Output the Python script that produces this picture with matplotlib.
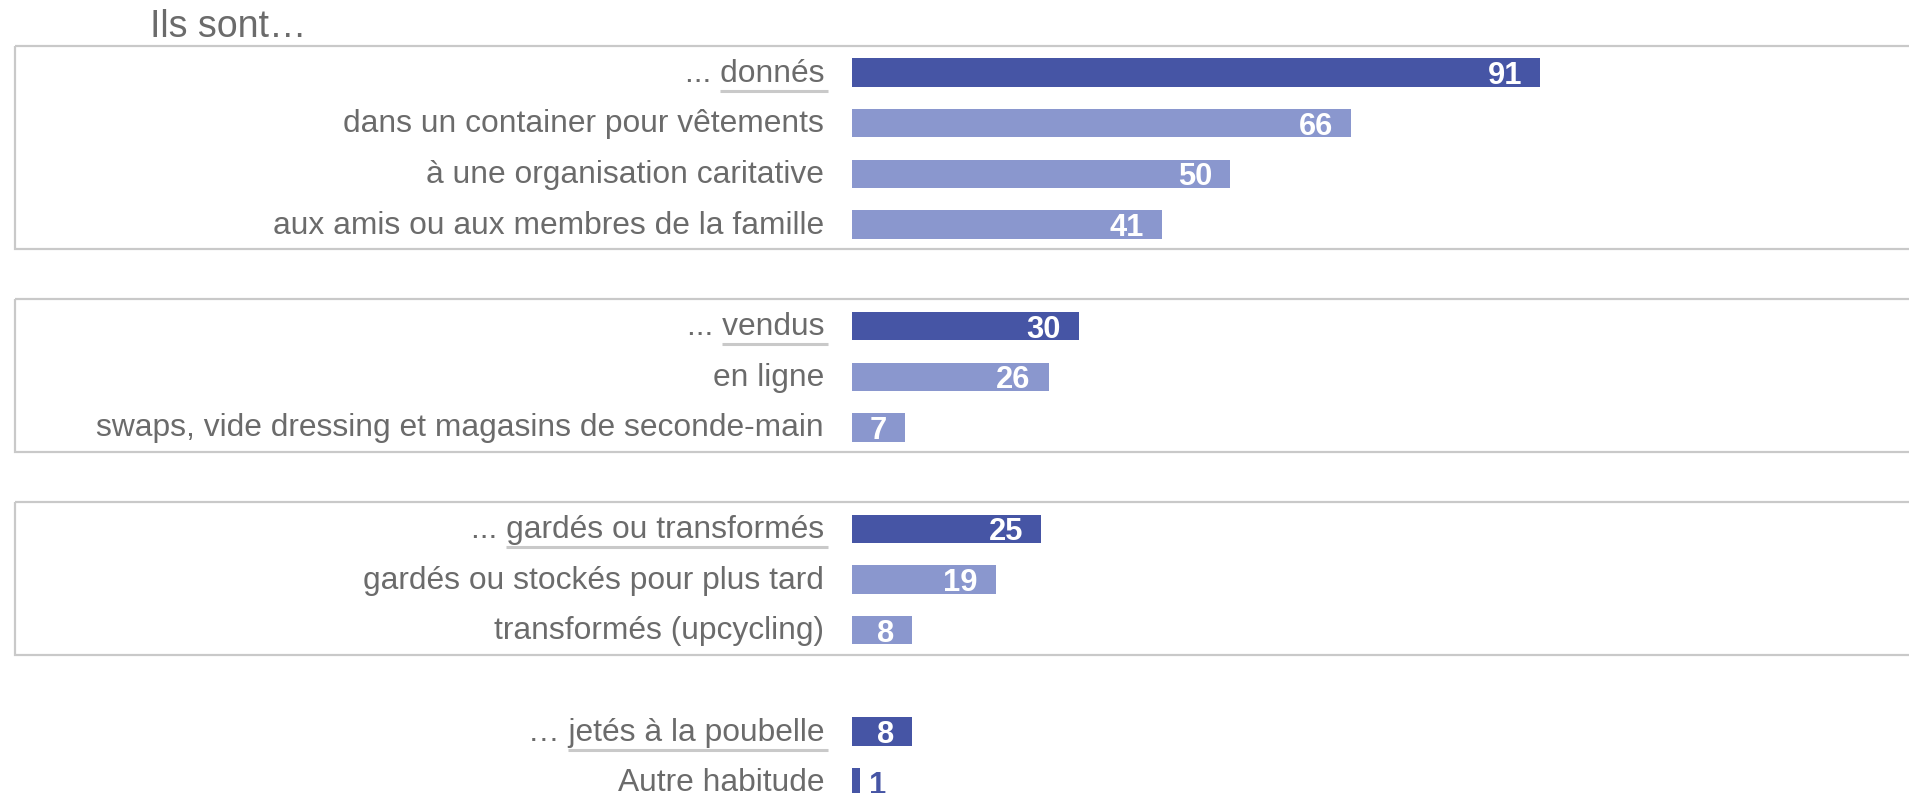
import matplotlib
matplotlib.use("Agg")
import matplotlib.pyplot as plt
from matplotlib.patches import Rectangle
from matplotlib.transforms import ScaledTranslation

# ---- data ----
title = "Ils sont…"
labels = [
    "... donnés",
    "dans un container pour vêtements",
    "à une organisation caritative",
    "aux amis ou aux membres de la famille",
    "... vendus",
    "en ligne",
    "swaps, vide dressing et magasins de seconde-main",
    "... gardés ou transformés",
    "gardés ou stockés pour plus tard",
    "transformés (upcycling)",
    "… jetés à la poubelle",
    "Autre habitude",
]
values = [91, 66, 50, 41, 30, 26, 7, 25, 19, 8, 8, 1]
group_sizes = [4, 3, 3, 2]
boxed_groups = [True, True, True, False]
underline_words = ["donnés", None, None, None, "vendus", None, None,
                   "gardés ou transformés", None, None, "jetés à la poubelle", None]
dark_rows = [True, False, False, False, True, False, False, True, False, False, True, True]

# ---- style ----
DARK = "#4655a5"
LIGHT = "#8a97ce"
TEXT = "#6b6b6b"
LINE = "#c9c9c9"
FONT = "Liberation Sans"

W, H, DPI = 1909, 793, 100
fig = plt.figure(figsize=(W / DPI, H / DPI), dpi=DPI)
ax = fig.add_axes([0, 0, 1, 1])
ax.set_axis_off()

# pixel layout -> data limits
x0_px, px_per_unit = 852.0, 7.56
row0_px, row_px = 72.5, 50.7
ax.set_xlim(-x0_px / px_per_unit, (W - x0_px) / px_per_unit)
ax.set_ylim((H - row0_px) / row_px, -row0_px / row_px)

# row positions: one empty row between groups
rows = []
group_ranges = []
r = 0
for gs in group_sizes:
    group_ranges.append((r, r + gs - 1))
    rows.extend(range(r, r + gs))
    r += gs + 1

colors = [DARK if d else LIGHT for d in dark_rows]
ax.barh(rows, values, height=0.56, color=colors, zorder=3)

# group boxes
for (ra, rb), boxed in zip(group_ranges, boxed_groups):
    if not boxed:
        continue
    left = (15 - x0_px) / px_per_unit
    top = ra - 0.53
    bottom = rb + 0.48
    ax.add_patch(Rectangle((left, top), 400, bottom - top, fill=False,
                           edgecolor=LINE, linewidth=1.6, zorder=1))

def px_offset(dx, dy=0):
    # dy positive = downward in pixels
    return ScaledTranslation(dx / DPI, -dy / DPI, fig.dpi_scale_trans)

fig.canvas.draw()
renderer = fig.canvas.get_renderer()

label_fs = 22.9
num_fs = 22.2
num_base = 0.358 * num_fs * DPI / 72.0
for row, lab, val, word in zip(rows, labels, values, underline_words):
    ax.text(0, row, lab, ha="right", va="baseline", fontsize=label_fs,
            color=TEXT, family=FONT,
            transform=ax.transData + px_offset(-28, 9), zorder=4)
    if word:
        tw = ax.text(0, row, word, ha="right", va="baseline", fontsize=label_fs,
                     family=FONT, alpha=0,
                     transform=ax.transData + px_offset(-28, 9))
        bb = tw.get_window_extent(renderer)
        inv = ax.transData.inverted()
        xa = inv.transform((bb.x0, 0))[0]
        xb = inv.transform((bb.x1 + 4, 0))[0]
        yl = row + 18 / row_px
        ax.plot([xa, xb], [yl, yl], color=LINE, lw=2.2, solid_capstyle="butt", zorder=4)
    # value label
    bar_px = val * px_per_unit
    if bar_px > 40:
        ax.text(val, row, f"{val}", ha="right", va="baseline", fontsize=num_fs,
                fontweight="bold", color="white", family=FONT,
                transform=ax.transData + px_offset(-18, num_base + 0.5), zorder=5)
    else:
        ax.text(val, row, f"{val}", ha="left", va="baseline", fontsize=num_fs,
                fontweight="bold", color=DARK, family=FONT,
                transform=ax.transData + px_offset(9, num_base + 0.5), zorder=5)

fig.text(150 / W, 1 - 37 / H, title, ha="left", va="baseline", fontsize=27,
         color=TEXT, family=FONT)

fig.savefig("out.png", dpi=DPI, facecolor="white")
